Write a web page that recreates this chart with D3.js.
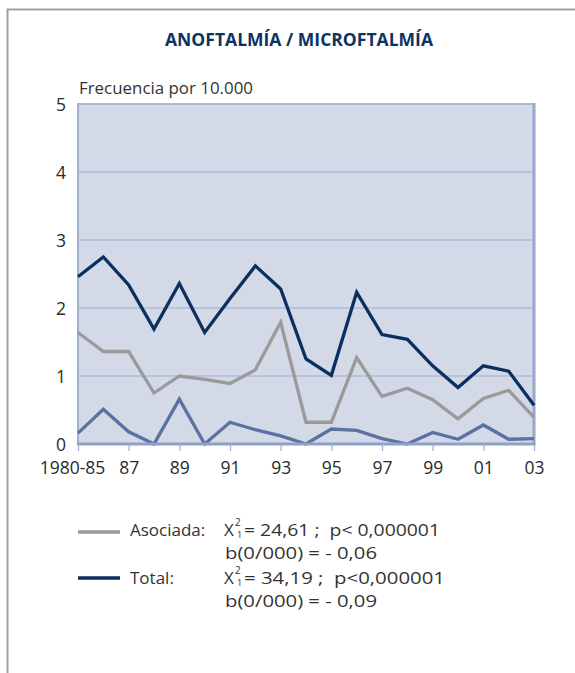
<!DOCTYPE html>
<html><head><meta charset="utf-8">
<script src="https://cdn.jsdelivr.net/npm/d3@7"></script>
<style>body{margin:0;background:#fff}svg{display:block;font-family:"Open Sans",sans-serif}</style>
</head><body>
<svg id="c" width="575" height="673"></svg>
<script>
const categories = ["1980-85","86","87","88","89","90","91","92","93","94","95","96","97","98","99","00","01","02","03"];
const tickLabels = ["1980-85","87","89","91","93","95","97","99","01","03"];
const yTicks = [0,1,2,3,4,5];
const total    = [2.46,2.75,2.34,1.69,2.36,1.64,2.14,2.62,2.28,1.25,1.01,2.23,1.61,1.54,1.15,0.83,1.15,1.07,0.57];
const asociada = [1.64,1.36,1.36,0.75,1.00,0.95,0.89,1.09,1.79,0.32,0.32,1.27,0.70,0.82,0.65,0.37,0.67,0.79,0.39];
const aislada  = [0.16,0.51,0.18,0.00,0.66,0.00,0.32,0.21,0.12,0.00,0.22,0.20,0.08,0.00,0.17,0.07,0.28,0.07,0.08];

const svg = d3.select("#c");
// frame
svg.append("rect").attr("x",7.5).attr("y",9.5).attr("width",600).attr("height",700)
  .attr("fill","none").attr("stroke","#a0a0a0").attr("stroke-width",2);

const L=78,R=534,T=104,B=444;
const x = d3.scalePoint().domain(categories).range([L,R]);
const y = d3.scaleLinear().domain([0,5]).range([B,T]);

svg.append("text").attr("x",299).attr("y",46).attr("text-anchor","middle")
  .attr("font-weight","bold").attr("font-size",17.5).attr("fill","#0b3462")
  .attr("textLength",268).attr("lengthAdjust","spacingAndGlyphs").text("ANOFTALMÍA / MICROFTALMÍA");

svg.append("rect").attr("x",L).attr("y",T).attr("width",R-L).attr("height",B-T).attr("fill","#d3d9e7");
// grid
svg.append("g").selectAll("line").data(yTicks.filter(d=>d>0&&d<5)).join("line")
  .attr("x1",L).attr("x2",R).attr("y1",d=>y(d)).attr("y2",d=>y(d))
  .attr("stroke","#9dadd1").attr("stroke-width",1.2);
// border
svg.append("line").attr("x1",L).attr("x2",R).attr("y1",T).attr("y2",T).attr("stroke","#aab6d3").attr("stroke-width",2);
svg.append("line").attr("x1",R).attr("x2",R).attr("y1",T-1).attr("y2",B).attr("stroke","#98a8cc").attr("stroke-width",3);
svg.append("line").attr("x1",L).attr("x2",L).attr("y1",T-1).attr("y2",B).attr("stroke","#a0aed0").attr("stroke-width",2);

svg.append("text").attr("x",79).attr("y",94).attr("font-size",17).attr("fill","#333")
  .attr("textLength",174).attr("lengthAdjust","spacingAndGlyphs").text("Frecuencia por 10.000");

// y labels
svg.append("g").selectAll("text").data(yTicks).join("text")
  .attr("x",66).attr("y",d=>y(d)+6.5).attr("text-anchor","end")
  .attr("font-size",17.5).attr("fill","#2a2a2a").text(d=>d);

const line = d3.line().x((d,i)=>x(categories[i])).y(d=>y(d));
const series = [[aislada,"#5a72a0"],[asociada,"#9a9a9a"],[total,"#0b2f5e"]];
svg.append("g").selectAll("path").data(series).join("path")
  .attr("d",d=>line(d[0])).attr("fill","none").attr("stroke",d=>d[1])
  .attr("stroke-width",3.3).attr("stroke-linejoin","miter");

// x axis
const xa = svg.append("g").attr("transform",`translate(0,${B})`)
  .call(d3.axisBottom(x).tickValues(tickLabels).tickSize(7).tickPadding(11).tickSizeOuter(0));
xa.select(".domain").attr("stroke","#8fa0c8").attr("stroke-width",3).attr("d",`M${L-1},0H${R+1.5}`);
xa.selectAll(".tick line").attr("stroke","#a3b1d4").attr("stroke-width",1.3);
xa.selectAll(".tick text").attr("font-size",17.5).attr("fill","#2a2a2a").attr("font-family","Open Sans")
  .attr("dx",d=>d===categories[0]?-6:0);

// legend
const lg = svg.append("g").attr("font-size",17).attr("fill","#333");
const legend = [
  {c:"#9a9a9a", name:"Asociada:", ly:532, by:536, chi:"= 24,61 ;  p< 0,000001", chiW:196, b:"b(0/000) = - 0,06"},
  {c:"#0b2f5e", name:"Total:", ly:578, by:584, chi:"= 34,19 ;  p<0,000001", chiW:201, b:"b(0/000) = - 0,09"}
];
legend.forEach(d=>{
  lg.append("line").attr("x1",78).attr("x2",120).attr("y1",d.ly).attr("y2",d.ly).attr("stroke",d.c).attr("stroke-width",3.5);
  lg.append("text").attr("x",130).attr("y",d.by).text(d.name);
  lg.append("text").attr("x",224).attr("y",d.by).text("X");
  lg.append("text").attr("x",235).attr("y",d.by-10).attr("font-size",10).text("2");
  lg.append("text").attr("x",237).attr("y",d.by+2).attr("font-size",9).text("1");
  lg.append("text").attr("x",244).attr("y",d.by).attr("xml:space","preserve")
    .attr("textLength",d.chiW).attr("lengthAdjust","spacingAndGlyphs").text(d.chi);
  lg.append("text").attr("x",225).attr("y",d.by+22.5).attr("font-size",16.5)
    .attr("textLength",152).attr("lengthAdjust","spacingAndGlyphs").text(d.b);
});
</script>
</body></html>
